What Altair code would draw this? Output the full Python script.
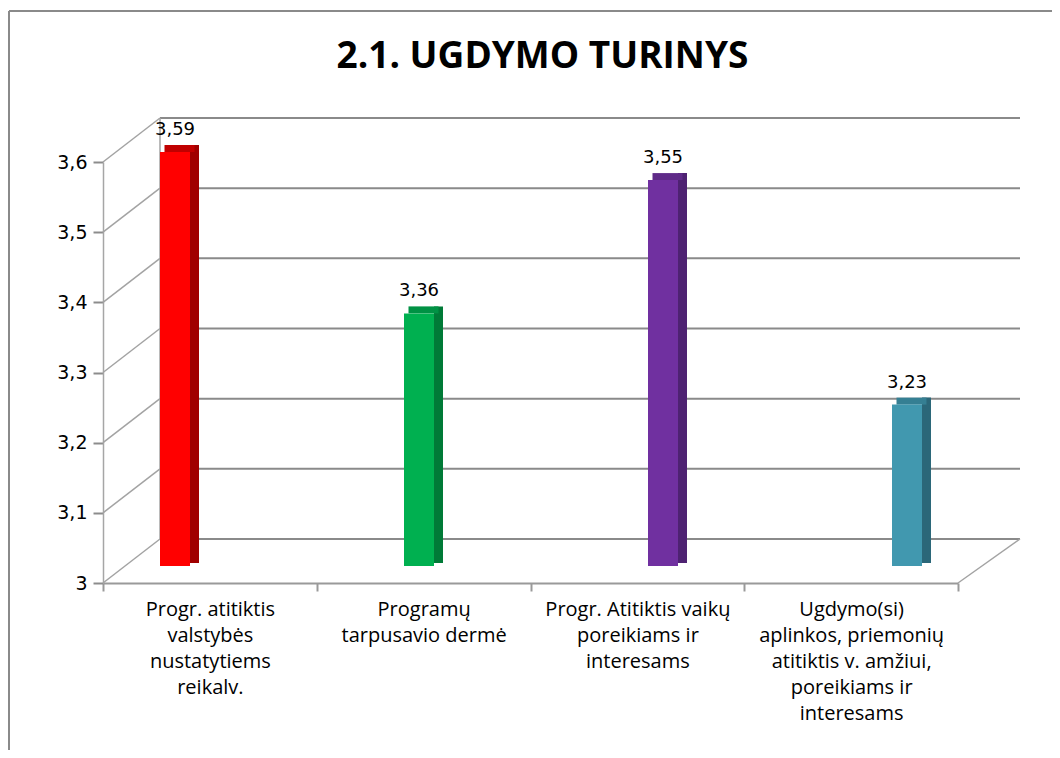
import altair as alt
import pandas as pd

# ---- data ----
categories = [
    "Progr.  atitiktis|valstybės|nustatytiems|reikalv.",
    "Programų|tarpusavio dermė",
    "Progr. Atitiktis vaikų|poreikiams ir|interesams",
    "Ugdymo(si)|aplinkos, priemonių|atitiktis v. amžiui,|poreikiams ir|interesams",
]
values = [3.59, 3.36, 3.55, 3.23]
front_colors = ["#FF0000", "#00B050", "#7030A0", "#4198AF"]
side_colors = ["#A00000", "#007A37", "#4E2272", "#2B6779"]
top_colors = ["#C00000", "#009244", "#5F2A88", "#357F93"]
y_ticks = [3.0, 3.1, 3.2, 3.3, 3.4, 3.5, 3.6]
title_text = ["2.1. UGDYMO TURINYS"]

# ---- layout (styles) ----
W, H = 855, 421
DX, DY = 57, -44       # depth of back wall
BACK_RIGHT = 917
BAR_DY = -17           # bars sit in the middle depth

df = pd.DataFrame({"cat": categories, "value": values,
                   "front": front_colors, "side": side_colors, "top": top_colors})
grid = pd.DataFrame({"v": y_ticks})
one = pd.DataFrame({"a": [0]})
title_df = pd.DataFrame({"t": title_text})

yscale = alt.Scale(domain=[3, 3.6], nice=False, zero=False)
xband = alt.Scale(domain=categories, paddingInner=0, paddingOuter=0)
barx = alt.Scale(domain=categories, range=[-50, 926], paddingInner=0, paddingOuter=0)

# axes holder
axes = alt.Chart(df).mark_point(opacity=0).encode(
    x=alt.X("cat:N", scale=xband, sort=categories, axis=alt.Axis(
        orient="bottom", labelAngle=0, tickBand="extent",
        labelExpr="isValid(datum.value) ? split(datum.value, '|') : ''",
        labelFont="Open Sans",
        labelFontSize=20, labelLineHeight=26, labelPadding=8, labelColor="#000",
        labelLimit=0, domainColor="#9a9a9a", domainWidth=2,
        tickColor="#9a9a9a", tickWidth=2, tickSize=8, title=None, grid=False)),
    y=alt.Y("value:Q", scale=yscale, axis=alt.Axis(
        values=y_ticks, labelExpr="replace(format(datum.value, '.1~f'), '.', ',')",
        labelFont="DejaVu Sans", labelFontSize=19, labelColor="#000",
        labelPadding=6, domainColor="#a6a6a6", domainWidth=1.5,
        tickColor="#8c8c8c", tickWidth=2, tickSize=10, title=None, grid=False)),
)

# back wall gridlines
back_grid = alt.Chart(grid).mark_rule(color="#8a8a8a", strokeWidth=2, yOffset=DY).encode(
    y=alt.Y("v:Q", scale=yscale, axis=None),
    x=alt.value(DX), x2=alt.value(BACK_RIGHT),
)
# side diagonals
diag = alt.Chart(grid).mark_rule(color="#a3a3a3", strokeWidth=1.5, y2Offset=DY).encode(
    y=alt.Y("v:Q", scale=yscale, axis=None), y2="v:Q",
    x=alt.value(0), x2=alt.value(DX),
)
back_left = alt.Chart(grid).transform_aggregate(lo="min(v)", hi="max(v)").mark_rule(
    color="#a3a3a3", strokeWidth=1.5, yOffset=DY, y2Offset=DY).encode(
    x=alt.value(DX), y=alt.Y("lo:Q", scale=yscale, axis=None), y2="hi:Q")
right_floor = alt.Chart(grid).transform_aggregate(lo="min(v)").mark_rule(
    color="#a3a3a3", strokeWidth=1.5, y2Offset=DY).encode(
    x=alt.value(W), x2=alt.value(BACK_RIGHT),
    y=alt.Y("lo:Q", scale=yscale, axis=None), y2="lo:Q")

# frame lines (chart border partly visible)
border_top = alt.Chart(one).mark_rule(color="#8a8a8a", strokeWidth=2).encode(
    x=alt.value(-94), x2=alt.value(W + 120), y=alt.value(-151))
border_left = alt.Chart(one).mark_rule(color="#8a8a8a", strokeWidth=2).encode(
    x=alt.value(-94), y=alt.value(-151), y2=alt.value(H + 200))

# title as text
title = alt.Chart(title_df).mark_text(
    font="Open Sans", fontSize=37, fontWeight="bold", color="#000",
    align="center", baseline="alphabetic").encode(
    x=alt.value(W / 2 + 12), y=alt.value(-94), text="t:N")

# bars (pseudo-3D)
bx = alt.X("cat:N", scale=barx, sort=categories, axis=None)
by = alt.Y("value:Q", scale=yscale, axis=None)
side = alt.Chart(df).mark_bar(width=9, xOffset=19.5, yOffset=BAR_DY - 7,
                              y2Offset=BAR_DY - 3).encode(
    x=bx, y=by, y2=alt.datum(3), color=alt.Color("side:N", scale=None))
top = alt.Chart(df).mark_bar(width=30, xOffset=4.5, yOffset=BAR_DY - 7,
                             y2Offset=BAR_DY).encode(
    x=bx, y=by, y2="value:Q", color=alt.Color("top:N", scale=None))
front = alt.Chart(df).mark_bar(width=30, yOffset=BAR_DY, y2Offset=BAR_DY).encode(
    x=bx, y=by, y2=alt.datum(3), color=alt.Color("front:N", scale=None))
labels = alt.Chart(df).transform_calculate(
    lbl="replace(format(datum.value, '.2f'), '.', ',')").mark_text(
    font="DejaVu Sans", fontSize=18, color="#000", baseline="bottom",
    yOffset=BAR_DY - 13, xOffset=0).encode(x=bx, y=by, text="lbl:N")

chart = alt.layer(
    border_top, border_left, title, back_grid, diag, back_left, right_floor,
    axes, side, top, front, labels,
).resolve_scale(x="independent", y="independent").properties(
    width=W, height=H,
    background="white",
    autosize=alt.AutoSizeParams(type="none"),
    padding={"left": 95, "top": 154, "right": 94, "bottom": 167},
).configure_view(stroke=None, strokeWidth=0)

chart.save("out.html", embed_options={"renderer": "svg", "actions": False})
